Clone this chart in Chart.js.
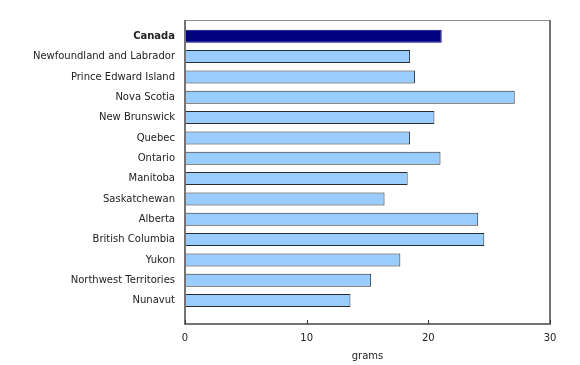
<!DOCTYPE html>
<html>
<head>
<meta charset="utf-8">
<script src="https://cdn.jsdelivr.net/npm/chart.js@4"></script>
<style>
  body { margin: 0; background: #fff; }
  #wrap { width: 580px; height: 365px; }
</style>
</head>
<body>
<div id="wrap"><canvas id="chart"></canvas></div>
<script>
// data
const regions = ['Canada','Newfoundland and Labrador','Prince Edward Island','Nova Scotia','New Brunswick','Quebec','Ontario','Manitoba','Saskatchewan','Alberta','British Columbia','Yukon','Northwest Territories','Nunavut'];
const grams = [21.1,18.5,18.9,27.1,20.5,18.5,21.0,18.3,16.4,24.1,24.6,17.7,15.3,13.6];
const xTicks = [0,10,20,30];

const font = 'DejaVu Sans';

// frame + inward tick marks
const frame = {
  id: 'frame',
  afterDraw(chart){
    const {ctx, chartArea:a} = chart;
    const x = chart.scales.x;
    ctx.save();
    ctx.strokeStyle = '#8a8a8a';
    ctx.lineWidth = 1;
    ctx.beginPath();
    ctx.moveTo(a.left, a.top+0.5); ctx.lineTo(a.right, a.top+0.5);
    ctx.stroke();
    ctx.strokeStyle = '#747474';
    ctx.lineWidth = 2;
    ctx.beginPath();
    ctx.moveTo(a.right, a.top); ctx.lineTo(a.right, a.bottom);
    ctx.moveTo(a.left, a.top); ctx.lineTo(a.left, a.bottom); ctx.lineTo(a.right+1, a.bottom);
    ctx.stroke();
    ctx.strokeStyle = '#333';
    ctx.lineWidth = 1;
    xTicks.forEach(v => {
      const px = Math.round(x.getPixelForValue(v)) + 0.5;
      ctx.beginPath();
      ctx.moveTo(px, a.bottom-4); ctx.lineTo(px, a.bottom);
      ctx.stroke();
    });
    ctx.restore();
  }
};

new Chart(document.getElementById('chart'), {
  type: 'bar',
  data: {
    datasets: [{
      data: grams.map((v,i) => ({x: v, y: i})),
      backgroundColor: grams.map((v,i) => i === 0 ? '#000080' : '#99ccff'),
      borderColor: grams.map((v,i) => i === 0 ? '#000080' : '#2b2b2b'),
      borderWidth: 1,
      categoryPercentage: 1,
      barPercentage: 0.64
    }]
  },
  options: {
    indexAxis: 'y',
    responsive: true,
    maintainAspectRatio: false,
    animation: false,
    layout: { padding: { top: 20, right: 30, left: 0, bottom: 0 } },
    plugins: { legend: { display: false }, tooltip: { enabled: false } },
    scales: {
      x: {
        type: 'linear', min: 0, max: 30,
        afterBuildTicks: s => { s.ticks = xTicks.map(v => ({value: v})); },
        afterFit: s => { s.height = 41; },
        grid: { display: false, drawTicks: false },
        border: { display: false },
        ticks: { color: '#222', padding: 8, font: { family: font, size: 10 } },
        title: { display: true, text: 'grams', color: '#222', padding: { top: 4, bottom: 3 }, font: { family: font, size: 10 } }
      },
      y: {
        type: 'linear', reverse: true, offset: false, min: -0.8, max: 14.15,
        afterBuildTicks: s => { s.ticks = regions.map((r,i) => ({value: i})); },
        afterFit: s => { s.width = 185; },
        grid: { display: false, drawTicks: false, offset: false },
        border: { display: false },
        ticks: {
          color: '#222', padding: 10,
          callback: v => regions[v],
          font: c => ({ family: font, size: 10, weight: c.tick && c.tick.value === 0 ? 'bold' : 'normal' })
        }
      }
    }
  },
  plugins: [frame]
});
</script>
</body>
</html>
